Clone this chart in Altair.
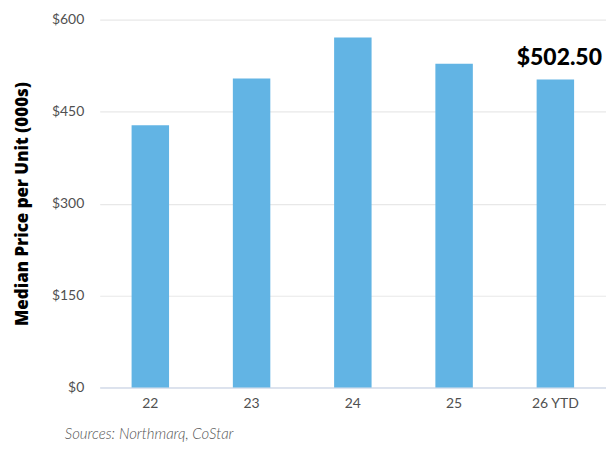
import altair as alt
import pandas as pd

years = ["22", "23", "24", "25", "26 YTD"]
prices = [428, 504, 571, 528, 502.5]
annot_year = ["26 YTD"]
annot_value = [502.5]
annot_label = ["$502.50"]

df = pd.DataFrame({"year": years, "price": prices})
dfa = pd.DataFrame({"year": annot_year, "price": annot_value, "label": annot_label})

FONT = "Lato"

x = alt.X("year:N", sort=years,
          scale=alt.Scale(paddingInner=0.63, paddingOuter=0.315),
          axis=alt.Axis(title=None, labelAngle=0, labelFont=FONT, labelFontSize=14,
                        labelFontWeight="normal", labelColor="#505050", labelPadding=9,
                        ticks=False, domainColor="#d6deec", domainWidth=1.5, grid=False))
y = alt.Y("price:Q", scale=alt.Scale(domain=[0, 600], nice=False),
          axis=alt.Axis(title="Median Price per Unit (000s)", values=[0, 150, 300, 450, 600],
                        format="$,.0f", labelFont=FONT, labelFontSize=14, labelFontWeight="normal",
                        labelColor="#505050", labelPadding=16, ticks=False, domain=False,
                        gridColor="#e8e8e8", gridWidth=1.2,
                        titleFont="Open Sans", titleFontSize=17, titleFontWeight=800,
                        titleColor="#000000", titlePadding=20))

bars = alt.Chart(df).mark_bar(color="#62B4E4").encode(x=x, y=y)

text = alt.Chart(dfa).mark_text(font=FONT, fontSize=23, fontWeight=900, color="#000000",
                                 baseline="alphabetic", dy=-15, dx=4).encode(
    x=alt.X("year:N", sort=years), y="price:Q", text="label:N")

chart = alt.layer(bars, text).properties(
    width=508, height=369,
    autosize=alt.AutoSizeParams(type="none"),
    padding={"left": 92, "top": 11, "right": 0, "bottom": 62},
    title=alt.TitleParams("Sources: Northmarq, CoStar", orient="bottom", anchor="start",
                          frame="group", dx=-35, offset=17, font=FONT, fontSize=15,
                          fontStyle="italic", fontWeight=300, color="#555555"),
).configure_view(stroke=None)

chart.save("out.html", embed_options={"renderer": "svg", "actions": False})
